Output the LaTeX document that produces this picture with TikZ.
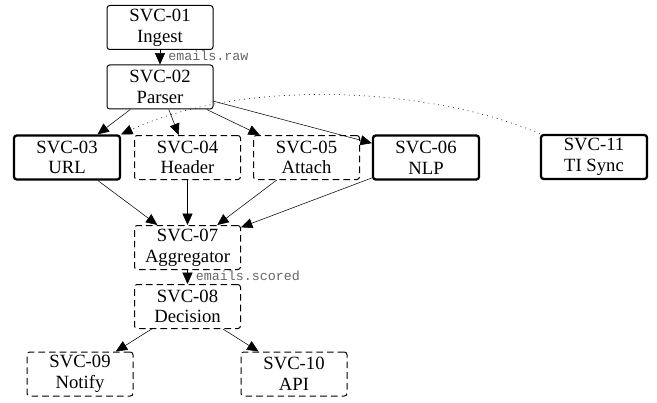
\documentclass[tikz,border=0pt]{standalone}
\usepackage{fontspec}
\setmainfont{Liberation Serif}
\setmonofont{Liberation Mono}
\usetikzlibrary{arrows.meta}

\begin{document}
\begin{tikzpicture}[x=0.75pt, y=-0.75pt, >={Triangle[length=8.5pt, width=7.5pt]},
        svc/.style={draw, rounded corners=2pt, minimum width=79.5pt, minimum height=33pt,
            align=center, inner sep=1pt, font=\fontsize{14}{15.5}\selectfont, line width=0.75pt},
        core/.style={svc, line width=1.7pt},
        opt/.style={svc, dash pattern=on 5pt off 3pt},
        topic/.style={font=\fontsize{10}{11}\ttfamily, text=black!60, inner sep=1pt}]
        \useasboundingbox (0, 0) rectangle (657, 403);

        \node [svc] (ingest) at (160, 27.5) {SVC-01\\Ingest};
        \node [svc] (parser) at (160, 87) {SVC-02\\Parser};

        \node [core] (url) at (67, 157.5) {SVC-03\\URL};
        \node [opt] (hdr) at (187.5, 157.5) {SVC-04\\Header};
        \node [opt] (attach) at (306.5, 157.5) {SVC-05\\Attach};
        \node [core] (nlp) at (426, 157.5) {SVC-06\\NLP};
        \node [core] (tisync) at (594, 157) {SVC-11\\TI Sync};

        \node [opt] (aggr) at (187.5, 247.5) {SVC-07\\Aggregator};
        \node [opt] (decide) at (187.5, 306.5) {SVC-08\\Decision};
        \node [opt] (notify) at (80, 374) {SVC-09\\Notify};
        \node [opt] (api) at (294, 374) {SVC-10\\API};

        \draw [->] (ingest) -- (parser) node [topic, right, midway, xshift=5pt, yshift=1pt] {emails.raw};
        \draw [->] (parser) -- (url);
        \draw [->] (parser) -- (hdr);
        \draw [->] (parser) -- (attach);
        \draw [->] (parser) -- (nlp);

        \draw [->] (url) -- (aggr);
        \draw [->] (hdr) -- (aggr);
        \draw [->] (attach) -- (aggr);
        \draw [->] (nlp) -- (aggr);

        \draw [->] (aggr) -- (decide) node [topic, right, midway, xshift=5pt, yshift=1pt] {emails.scored};
        \draw [->] (decide) -- (notify);
        \draw [->] (decide) -- (api);

        % threat intel feed
        \draw [->, dash pattern=on 0.75pt off 3pt] (tisync.north west) .. controls (440, 90) and (250, 75) .. (url.north east);
\end{tikzpicture}
\end{document}
